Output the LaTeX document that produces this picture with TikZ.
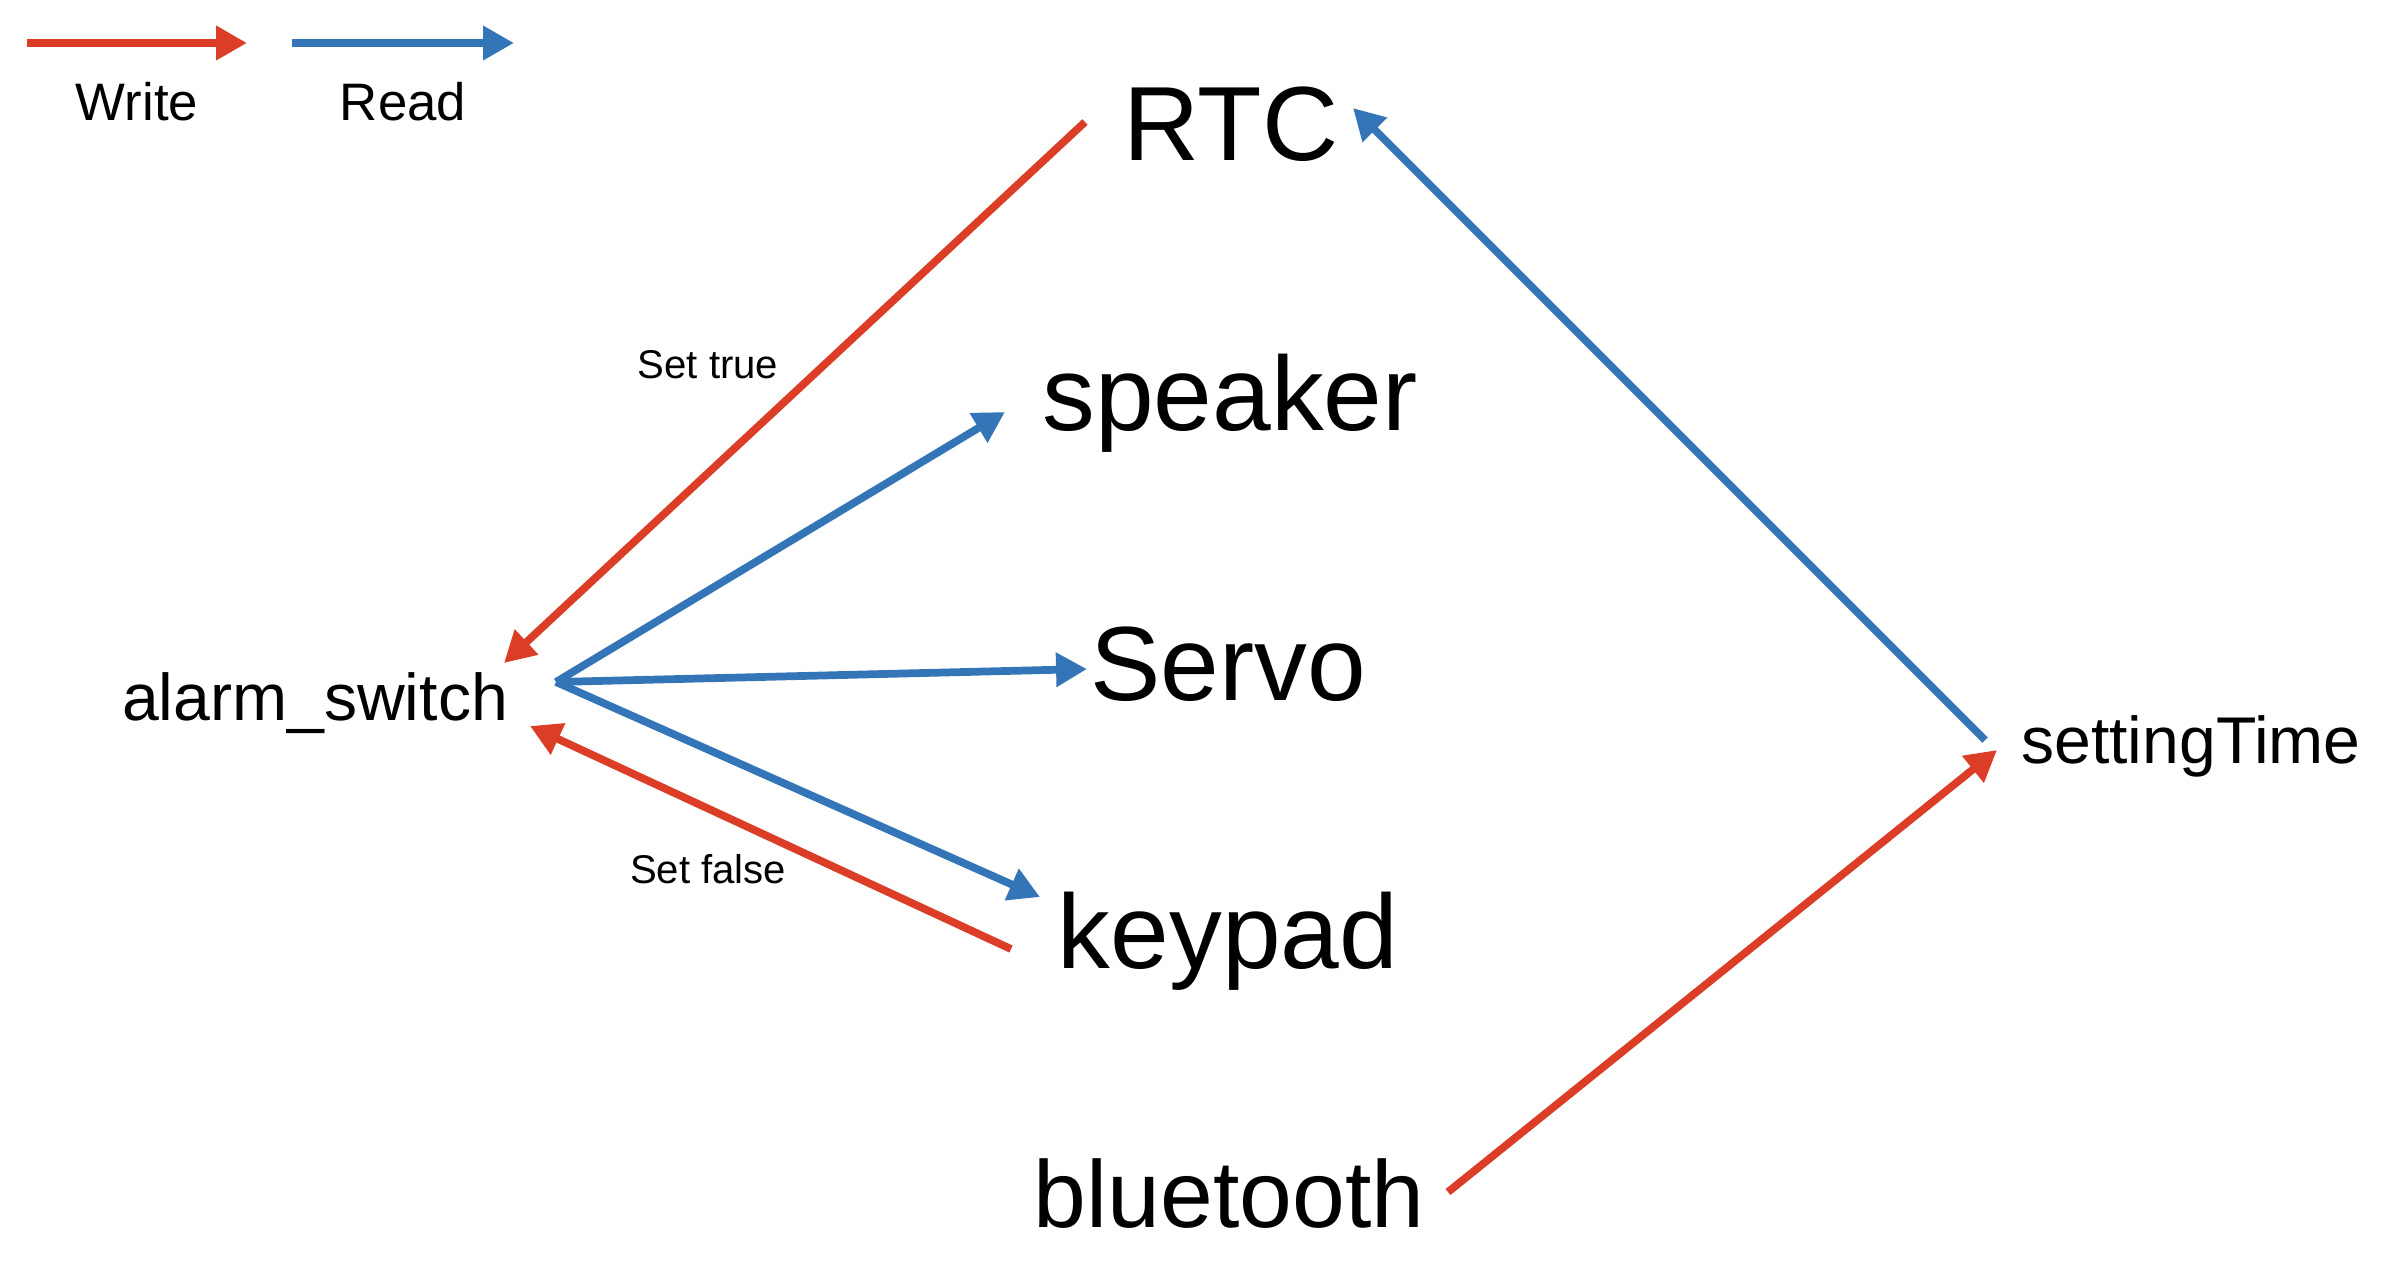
\documentclass[tikz,border=0pt]{standalone}
\usepackage{fontspec}
\setmainfont{Liberation Sans}
\usepackage{tikz}
\usetikzlibrary{arrows.meta,positioning,calc}
\definecolor{wrred}{RGB}{219,61,39}
\definecolor{rdblue}{RGB}{52,117,184}

\begin{document}
\begin{tikzpicture}[
    big/.style={anchor=base, inner sep=0pt, font=\fontsize{30}{32}\selectfont},
    var/.style={anchor=base, inner sep=0pt, font=\fontsize{18.8}{20}\selectfont},
    legend/.style={anchor=base, inner sep=0pt, font=\fontsize{15}{16}\selectfont},
    tag/.style={anchor=base, inner sep=0pt, font=\fontsize{11.4}{12}\selectfont},
    wr/.style={-{Triangle[length=8.8pt, width=9.3pt]}, line width=2.2pt, draw=wrred},
    rd/.style={-{Triangle[length=8.8pt, width=9.3pt]}, line width=2.2pt, draw=rdblue},
    x=0.01cm, y=-0.01cm
]
\useasboundingbox (0,0) rectangle (2394,1278);

% --- Legend ---
\node[legend] (wlab) at (137,120) {Write};
\node[legend] (rlab) at (403,120) {Read};
\draw[wr] ($(wlab.base)+(-110,-77)$) -- ($(wlab.base)+(110,-77)$);
\draw[rd] ($(rlab.base)+(-111,-77)$) -- ($(rlab.base)+(111,-77)$);

% --- Devices ---
\node[big] (RTC)     at (1231,160)  {RTC};
\node[big] (speaker) at (1230,430)  {speaker};
\node[big] (Servo)   at (1228,700)  {Servo};
\node[big] (keypad)  at (1228,968)  {keypad};
\node[big, font=\fontsize{27}{29}\selectfont] (bt) at (1229,1227) {bluetooth};

% --- Variables ---
\node[var] (alarm)   at (315,720)  {alarm\_switch};
\node[var] (setting) at (2191,763) {settingTime};

\coordinate (fan) at ($(alarm.base)+(241,-38)$);

% RTC writes alarm_switch
\draw[wr] ($(RTC.base)+(-146,-38)$) -- ($(alarm.base)+(189,-57)$);
\node[tag] (settrue) at (708,378) {Set true};

% alarm_switch read by the devices
\draw[rd] (fan) -- ($(speaker.base)+(-225,-18)$);
\draw[rd] (fan) -- ($(Servo.base)+(-141,-31)$);
\draw[rd] (fan) -- ($(keypad.base)+(-188,-71)$);

% keypad writes alarm_switch
\draw[wr] ($(keypad.base)+(-217,-19)$) -- ($(alarm.base)+(215,6)$);
\node[tag] (setfalse) at (708,883) {Set false};

% settingTime read by RTC
\draw[rd] ($(setting.base)+(-206,-23)$) -- ($(RTC.base)+(122,-52)$);

% bluetooth writes settingTime
\draw[wr] ($(bt.base)+(219,-35)$) -- ($(setting.base)+(-194,-13)$);

\end{tikzpicture}
\end{document}
